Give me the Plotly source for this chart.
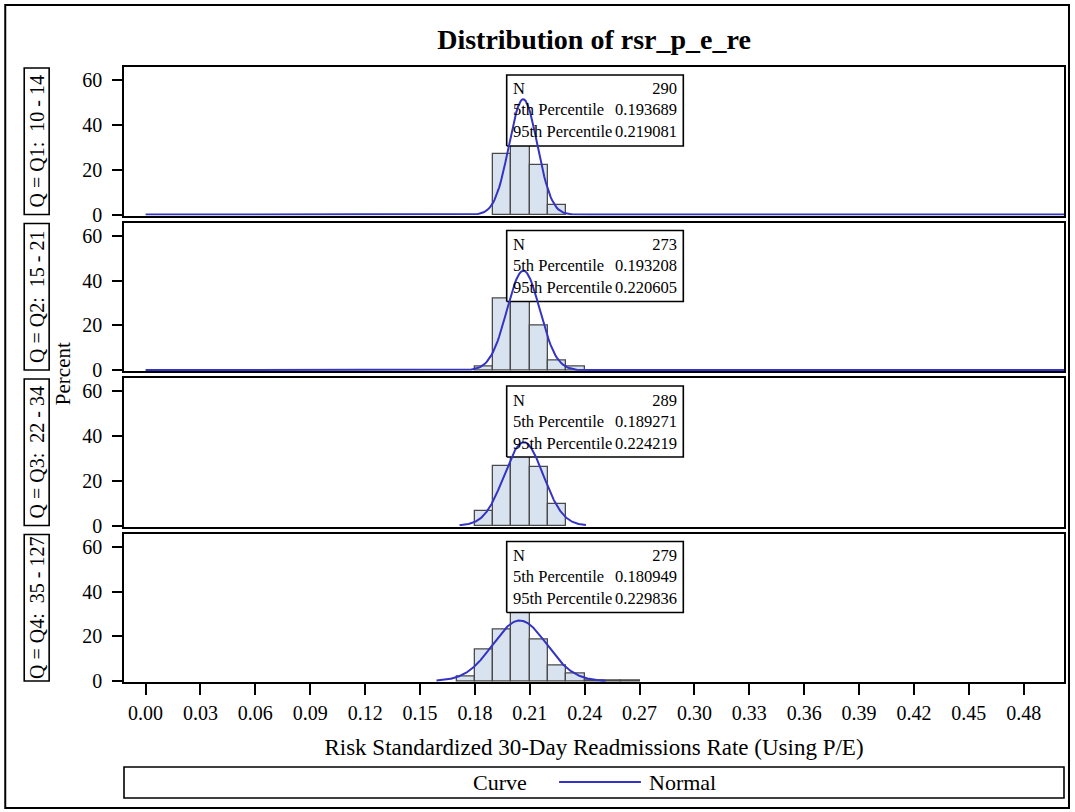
import numpy as np
import plotly.graph_objects as go
from plotly.subplots import make_subplots

# ---------------- data ----------------
panel_labels = ["Q = Q1:  10 - 14", "Q = Q2:  15 - 21", "Q = Q3:  22 - 34", "Q = Q4:  35 - 127"]
bin_width = 0.01

q1_mid = [0.195, 0.205, 0.215, 0.225]
q1_pct = [27.2, 46.5, 22.1, 4.1]
q2_mid = [0.185, 0.195, 0.205, 0.215, 0.225, 0.235]
q2_pct = [1.8, 31.9, 40.3, 20.1, 4.4, 1.5]
q3_mid = [0.185, 0.195, 0.205, 0.215, 0.225]
q3_pct = [6.6, 26.6, 30.8, 26.3, 9.7]
q4_mid = [0.175, 0.185, 0.195, 0.205, 0.215, 0.225, 0.235, 0.245, 0.255, 0.265]
q4_pct = [2.2, 14.3, 22.9, 30.5, 18.6, 7.2, 3.2, 0.36, 0.36, 0.36]

stat_n = ["290", "273", "289", "279"]
stat_p5 = ["0.193689", "0.193208", "0.189271", "0.180949"]
stat_p95 = ["0.219081", "0.220605", "0.224219", "0.229836"]

# fitted normal curves (mean, sd) and drawn extent
normal_mean = [0.2064, 0.2065, 0.2067, 0.2045]
normal_sd = [0.00773, 0.00898, 0.0107, 0.01472]
curve_start = [0.0, 0.0, 0.1716, 0.159]
curve_end = [0.51, 0.51, 0.2407, 0.2515]

x_ticks = [0.00, 0.03, 0.06, 0.09, 0.12, 0.15, 0.18, 0.21, 0.24, 0.27, 0.30,
           0.33, 0.36, 0.39, 0.42, 0.45, 0.48]
y_ticks = [0, 20, 40, 60]

title_text = "Distribution of rsr_p_e_re"
x_title = "Risk Standardized 30-Day Readmissions Rate (Using P/E)"
y_title = "Percent"
legend_title = "Curve"
legend_item = "Normal"

mids = [q1_mid, q2_mid, q3_mid, q4_mid]
pcts = [q1_pct, q2_pct, q3_pct, q4_pct]

# ---------------- layout geometry ----------------
W, H = 1075, 812
L, R, T, B = 124, 1066, 67, 682
GAP = 7
PH = (B - T - 3 * GAP) / 4
XR = [-0.0118, 0.502]
YR = [-0.4, 66]

FONT = "Liberation Serif, Times New Roman, serif"
BAR_FILL = "#d9e3f0"
BAR_LINE = "#4a4a4a"
CURVE = "#3434c4"


def px_x(px):
    return (px - L) / (R - L)


def px_y(py):
    return (B - py) / (B - T)


def data_x(px):
    return XR[0] + (px - L) / (R - L) * (XR[1] - XR[0])


def data_y(py, i):
    bottom = T + i * (PH + GAP) + PH
    return YR[0] + (bottom - py) / PH * (YR[1] - YR[0])


fig = make_subplots(rows=4, cols=1, shared_xaxes=True,
                    vertical_spacing=GAP / (B - T))

shapes = []
annotations = []

for i in range(4):
    row = i + 1
    fig.add_trace(go.Bar(
        x=mids[i], y=pcts[i], width=bin_width,
        marker=dict(color=BAR_FILL, line=dict(color=BAR_LINE, width=1.3)),
        showlegend=False, hoverinfo="x+y"), row=row, col=1)

    # inset box (white, above bars, below curve)
    top_px = T + i * (PH + GAP)
    bx0, bx1 = data_x(507.5), data_x(684.5)
    by1, by0 = data_y(top_px + 8, i), data_y(top_px + 79, i)
    fig.add_trace(go.Scatter(
        x=[bx0, bx1, bx1, bx0, bx0], y=[by0, by0, by1, by1, by0],
        mode="lines", fill="toself", fillcolor="white",
        line=dict(color="black", width=1.6),
        showlegend=False, hoverinfo="skip"), row=row, col=1)

    xs = np.linspace(curve_start[i], curve_end[i], 600)
    ys = 100 * bin_width * np.exp(-0.5 * ((xs - normal_mean[i]) / normal_sd[i]) ** 2) / (
        normal_sd[i] * np.sqrt(2 * np.pi))
    fig.add_trace(go.Scatter(
        x=xs, y=ys, mode="lines", line=dict(color=CURVE, width=2),
        name=legend_item, showlegend=False, hoverinfo="skip"), row=row, col=1)

    cy = px_y(top_px + 8 + 35.5)
    annotations.append(dict(
        xref="paper", yref="paper", x=px_x(511.5), y=cy, xanchor="left", yanchor="middle",
        text="N<br>5th Percentile<br>95th Percentile", align="left", showarrow=False,
        font=dict(family=FONT, size=16.5, color="black")))
    annotations.append(dict(
        xref="paper", yref="paper", x=px_x(680.5), y=cy, xanchor="right", yanchor="middle",
        text=f"{stat_n[i]}<br>{stat_p5[i]}<br>{stat_p95[i]}", align="right", showarrow=False,
        font=dict(family=FONT, size=16.5, color="black")))

    # row header boxes
    y0p, y1p = top_px + 1, top_px + PH - 1
    shapes.append(dict(type="rect", xref="paper", yref="paper",
                       x0=px_x(24), x1=px_x(49), y0=px_y(y1p), y1=px_y(y0p),
                       line=dict(color="black", width=1.6)))
    annotations.append(dict(
        xref="paper", yref="paper", x=px_x(37), y=px_y((y0p + y1p) / 2),
        text=panel_labels[i], textangle=-90, showarrow=False,
        xanchor="center", yanchor="middle",
        font=dict(family=FONT, size=20, color="black")))

    fig.update_yaxes(row=row, col=1, range=YR, tickvals=y_ticks, ticks="outside",
                     ticklen=10, tickwidth=1.5, tickcolor="black",
                     showline=True, linecolor="black", linewidth=1.6, mirror=True,
                     showgrid=False, zeroline=False, layer="below traces",
                     ticklabelstandoff=6,
                     tickfont=dict(family=FONT, size=20, color="black"))
    fig.update_xaxes(row=row, col=1, range=XR, showline=True, linecolor="black",
                     linewidth=1.6, mirror=True, showgrid=False, zeroline=False,
                     layer="below traces",
                     ticks="outside" if row == 4 else "", tickvals=x_ticks,
                     showticklabels=(row == 4), tickformat=".2f", ticklen=11,
                     tickwidth=1.5, tickcolor="black",
                     tickfont=dict(family=FONT, size=20, color="black"))

fig.update_xaxes(row=4, col=1, ticklabelstandoff=1,
                 title=dict(text=x_title, standoff=16,
                            font=dict(family=FONT, size=23, color="black")))

# y axis title
annotations.append(dict(xref="paper", yref="paper", x=px_x(63), y=px_y(374),
                        text=y_title, textangle=-90, showarrow=False,
                        xanchor="center", yanchor="middle",
                        font=dict(family=FONT, size=21, color="black")))

# legend (box, title, line sample, label)
shapes.append(dict(type="rect", xref="paper", yref="paper",
                   x0=px_x(124), x1=px_x(1066), y0=px_y(798), y1=px_y(767),
                   line=dict(color="black", width=1.6)))
annotations.append(dict(xref="paper", yref="paper", x=px_x(501), y=px_y(782.5),
                        text=legend_title, showarrow=False, xanchor="center",
                        yanchor="middle", font=dict(family=FONT, size=22, color="black")))
shapes.append(dict(type="line", xref="paper", yref="paper",
                   x0=px_x(560), x1=px_x(642), y0=px_y(782), y1=px_y(782),
                   line=dict(color=CURVE, width=2)))
annotations.append(dict(xref="paper", yref="paper", x=px_x(684), y=px_y(782.5),
                        text=legend_item, showarrow=False, xanchor="center",
                        yanchor="middle", font=dict(family=FONT, size=22, color="black")))

# outer frame
shapes.append(dict(type="rect", xref="paper", yref="paper",
                   x0=px_x(5), x1=px_x(1071), y0=px_y(808), y1=px_y(5),
                   line=dict(color="black", width=2)))

fig.update_layout(
    width=W, height=H,
    margin=dict(l=L, r=W - R, t=T, b=H - B),
    paper_bgcolor="white", plot_bgcolor="white",
    bargap=0, barmode="overlay",
    title=dict(text=f"<b>{title_text}</b>", x=px_x(595), xref="paper",
               y=1 - 39 / H, yref="container", xanchor="center", yanchor="middle",
               font=dict(family=FONT, size=28, color="black")),
    shapes=shapes, annotations=annotations,
    showlegend=False,
)

fig.write_html("out.html", config={"displayModeBar": False},
               post_script="document.body.style.margin='0';document.body.style.padding='0';")
